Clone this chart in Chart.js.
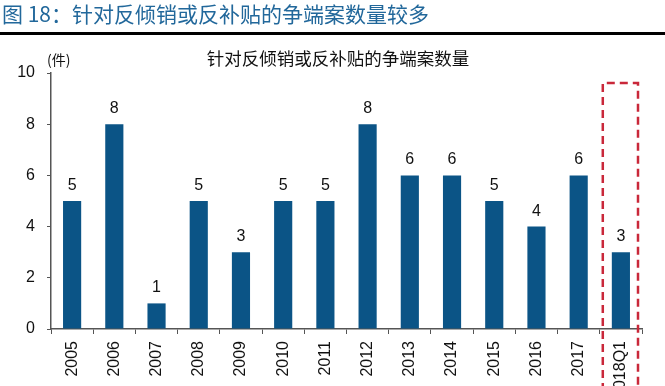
<!DOCTYPE html>
<html>
<head>
<meta charset="utf-8">
<script src="https://cdn.jsdelivr.net/npm/chart.js@4/dist/chart.umd.min.js"></script>
<style>
  html, body { margin: 0; padding: 0; background: #fff; }
  #wrap { width: 665px; height: 386px; position: relative; }
</style>
</head>
<body>
<div id="wrap"><canvas id="chart"></canvas></div>
<script>
// data
const years = ["2005", "2006", "2007", "2008", "2009", "2010", "2011", "2012", "2013", "2014", "2015", "2016", "2017", "2018Q1"];
const cases = [5, 8, 1, 5, 3, 5, 5, 8, 6, 6, 5, 4, 6, 3];
const yTicks = [0, 2, 4, 6, 8, 10];

const headerText = "图 18：针对反倾销或反补贴的争端案数量较多";
const chartTitle = "针对反倾销或反补贴的争端案数量";
const unitText = "(件)";
const highlightIndex = 13;

const latin = "'Liberation Sans', Arial, sans-serif";
const cjk = "'Noto Sans CJK SC', sans-serif";

// header, titles, value labels and the red dashed box
const decorations = {
  id: "decorations",
  afterDraw(chart) {
    const ctx = chart.ctx;
    const x = chart.scales.x;
    const y = chart.scales.y;
    ctx.save();

    // page header
    ctx.fillStyle = "#22689b";
    ctx.font = "21px " + cjk;
    ctx.textAlign = "left";
    ctx.textBaseline = "middle";
    ctx.fillText(headerText, 2, 14);

    ctx.fillStyle = "#000";
    ctx.fillRect(0, 32, chart.width, 3);

    // chart title
    ctx.fillStyle = "#111";
    ctx.font = "17.5px " + cjk;
    ctx.textAlign = "center";
    ctx.fillText(chartTitle, 338, 58);

    // unit
    ctx.font = "14px " + cjk;
    ctx.textAlign = "left";
    ctx.fillText(unitText, 47, 60);

    // value labels
    ctx.font = "16px " + latin;
    ctx.textAlign = "center";
    ctx.textBaseline = "alphabetic";
    chart.getDatasetMeta(0).data.forEach((bar, i) => {
      ctx.fillText(String(cases[i]), bar.x, bar.y - 11);
    });

    // dashed highlight box round the last category
    const half = (x.getPixelForValue(1) - x.getPixelForValue(0)) / 2;
    const cx = x.getPixelForValue(highlightIndex);
    const left = cx - half + 3;
    const right = cx + half - 4;
    const top = y.getPixelForValue(10) + 10;
    const bottom = chart.height + 5;
    ctx.strokeStyle = "#c9283a";
    ctx.lineWidth = 2.5;
    ctx.setLineDash([8, 5]);
    ctx.beginPath();
    ctx.moveTo(left, bottom);
    ctx.lineTo(left, top);
    ctx.lineTo(right, top);
    ctx.lineTo(right, bottom);
    ctx.stroke();

    ctx.restore();
  }
};

new Chart(document.getElementById("chart"), {
  type: "bar",
  data: {
    labels: years,
    datasets: [{
      data: cases,
      backgroundColor: "#0b5486",
      categoryPercentage: 1,
      barPercentage: 0.43
    }]
  },
  options: {
    responsive: true,
    maintainAspectRatio: false,
    animation: false,
    devicePixelRatio: 1,
    layout: { padding: { top: 73, right: 23, left: 0, bottom: 0 } },
    plugins: {
      legend: { display: false },
      tooltip: { enabled: false }
    },
    scales: {
      x: {
        offset: true,
        afterFit: (scale) => { scale.height = 57; },
        grid: {
          offset: true,
          drawOnChartArea: false,
          drawTicks: true,
          tickLength: 5,
          color: "#555"
        },
        border: { color: "#555", width: 1.5 },
        ticks: {
          minRotation: 90,
          maxRotation: 90,
          autoSkip: false,
          padding: 7,
          color: "#111",
          font: { family: latin, size: 16 }
        }
      },
      y: {
        min: 0,
        max: 10,
        afterFit: (scale) => { scale.width = 51; },
        afterBuildTicks: (scale) => { scale.ticks = yTicks.map((v) => ({ value: v })); },
        grid: {
          drawOnChartArea: false,
          drawTicks: true,
          tickLength: 4,
          color: "#555"
        },
        border: { color: "#555", width: 1.5 },
        ticks: {
          padding: 12,
          color: "#111",
          font: { family: latin, size: 16 }
        }
      }
    }
  },
  plugins: [decorations]
});
</script>
</body>
</html>
